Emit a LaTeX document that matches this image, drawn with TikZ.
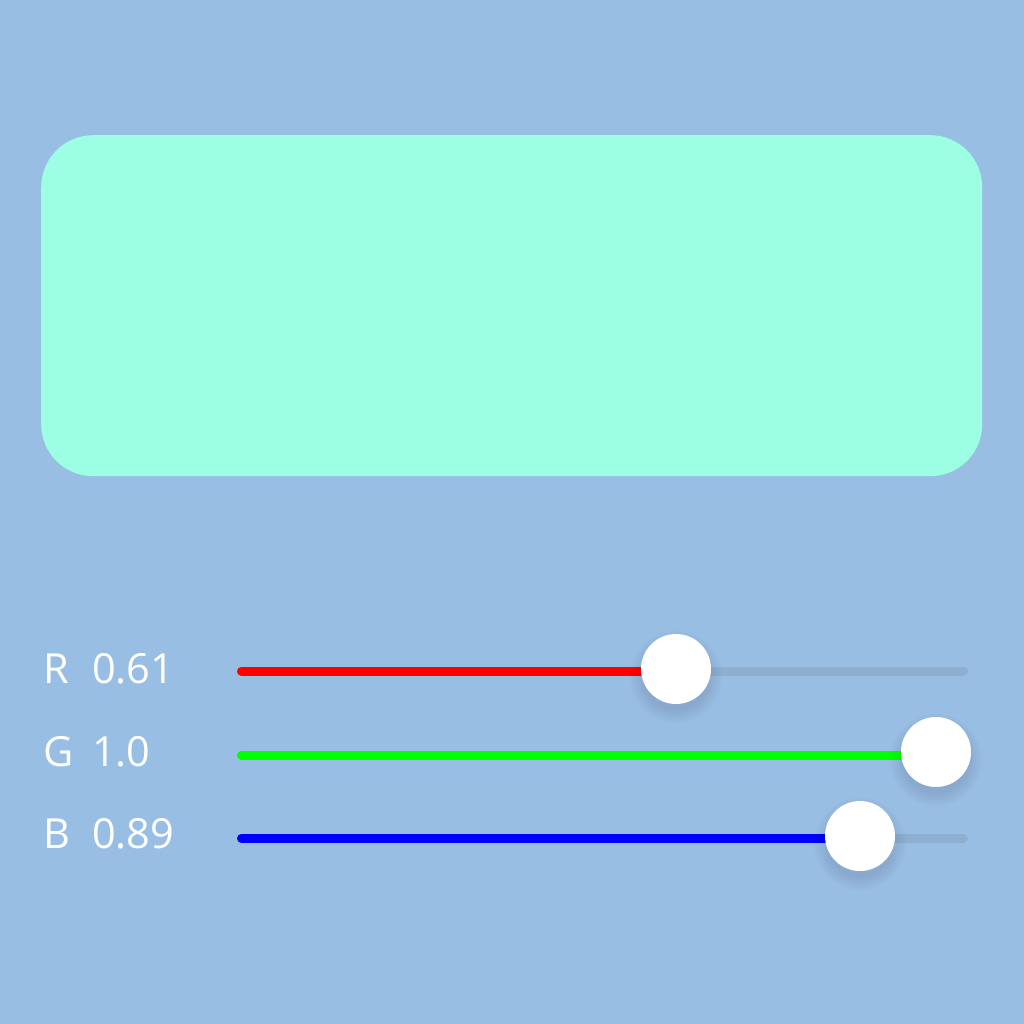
\documentclass[tikz,border=0pt]{standalone}
\usepackage{fontspec}
\setmainfont{Open Sans}
\definecolor{bg}{RGB}{152,190,227}
\definecolor{panel}{RGB}{156,255,227}
\definecolor{trackoff}{RGB}{142,175,208}
\definecolor{rr}{RGB}{255,0,0}
\definecolor{gg}{RGB}{0,255,0}
\definecolor{bb}{RGB}{0,0,255}
\tikzset{
  lbl/.style={anchor=base west, inner sep=0pt, text=white, font=\fontsize{41.5}{41.5}\selectfont},
  trk/.style={line width=9pt, line cap=round},
  knob/.style={circle, fill=white, minimum size=70pt, inner sep=0pt},
}
\newcommand{\knobshadow}[2]{%
  \foreach \r in {34,36,...,46}{
    \fill[black, opacity=0.013] (#1,#2+8) circle[radius=\r pt];
  }%
}
\begin{document}
\begin{tikzpicture}[x=1pt,y=-1pt]
\useasboundingbox (0,0) rectangle (1024,1024);
\fill[bg] (0,0) rectangle (1024,1024);
\node[fill=panel, rounded corners=52pt, minimum width=941pt, minimum height=341pt, inner sep=0pt, anchor=north west] (panel) at (41,135) {};
% labels
\node[lbl] (rl) at (43,683) {R};
\node[lbl] (rv) at (92,683) {0.61};
\node[lbl] (gl) at (43,766) {G};
\node[lbl] (gv) at (92,766) {1.0};
\node[lbl] (bl) at (43,848) {B};
\node[lbl] (bv) at (92,848) {0.89};
% tracks
\coordinate (rs) at (241.5,671); \coordinate (re) at (963.5,671); \coordinate (rk) at (676,669);
\coordinate (gs) at (241.5,755); \coordinate (ge) at (963.5,755); \coordinate (gk) at (936,752);
\coordinate (bs) at (241.5,838); \coordinate (be) at (963.5,838); \coordinate (bk) at (860,836);
\draw[trk, trackoff] (rs) -- (re);
\draw[trk, rr] (rs) -- (rk |- rs);
\draw[trk, gg] (gs) -- (ge);
\draw[trk, trackoff] (bs) -- (be);
\draw[trk, bb] (bs) -- (bk |- bs);
% knobs
\knobshadow{676}{669}
\node[knob] (rknob) at (rk) {};
\knobshadow{936}{752}
\node[knob] (gknob) at (gk) {};
\knobshadow{860}{836}
\node[knob] (bknob) at (bk) {};
\end{tikzpicture}
\end{document}
